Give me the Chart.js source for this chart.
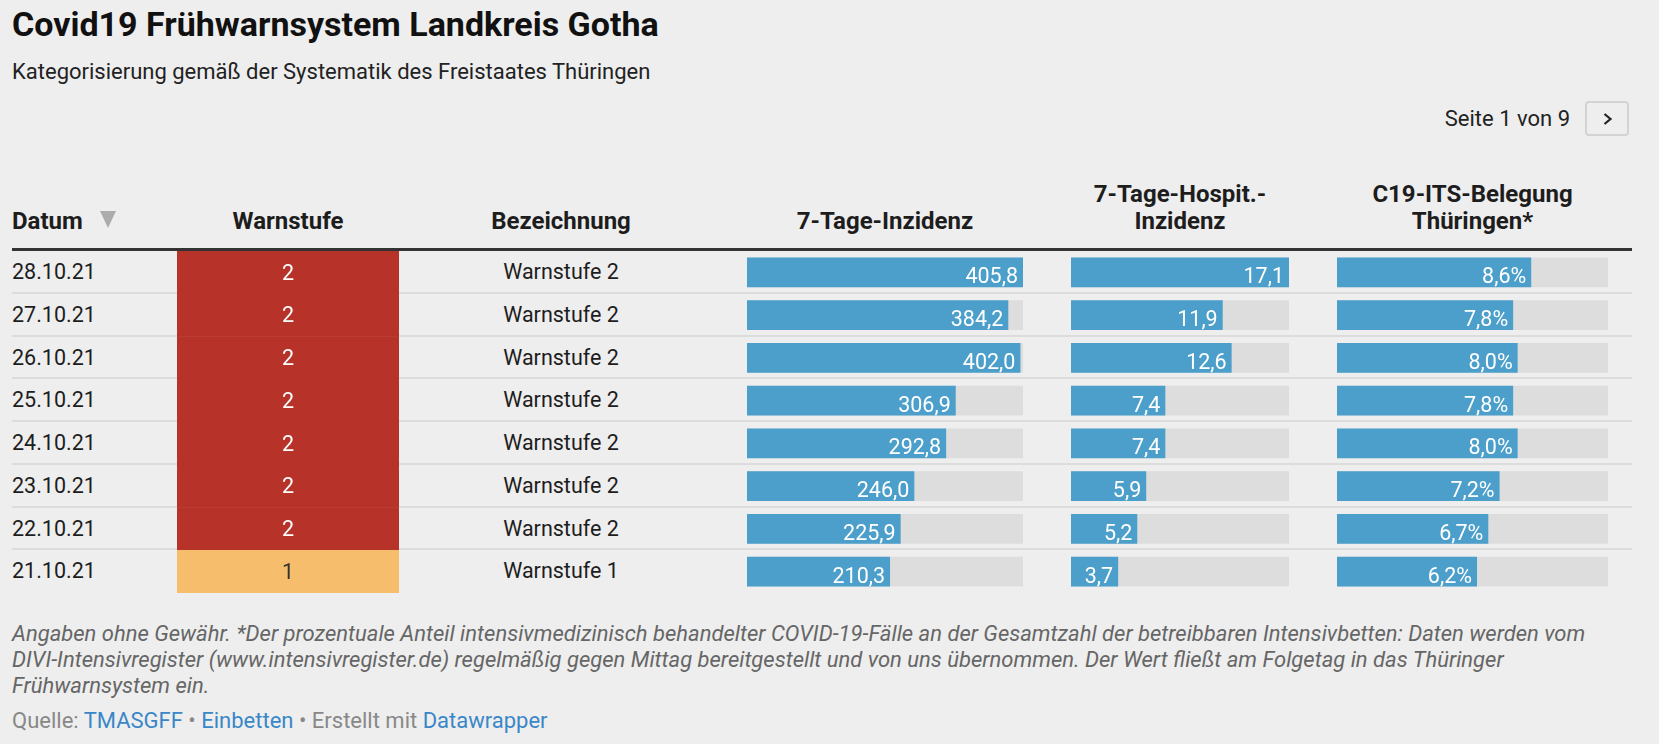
<!DOCTYPE html>
<html lang="de">
<head>
<meta charset="utf-8">
<title>Covid19 Frühwarnsystem Landkreis Gotha</title>
<script src="https://cdn.jsdelivr.net/npm/chart.js@4.4.1/dist/chart.umd.min.js"></script>
<style>
  html, body { margin: 0; padding: 0; background: #eeeeee; }
  body { width: 1659px; height: 744px; position: relative; overflow: hidden;
         font-family: Roboto, "Noto Sans", sans-serif; color: #1d1d1d; }
  .abs { position: absolute; white-space: nowrap; }
  .th { font-size: 24px; font-weight: 700; line-height: 27px; text-align: center; width: 320px; }
  .td { font-size: 21.5px; line-height: 42.75px; height: 42.75px; }
  .sep { position: absolute; left: 12px; width: 1620px; height: 2px; background: #dcdcdc; }
  .chart { position: absolute; top: 251px; height: 342px; }
  .foot { font-size: 22px; line-height: 26px; font-style: italic; color: #666; }
  .src { font-size: 22px; line-height: 26px; color: #888; }
  .src a { color: #3a87c8; text-decoration: none; }
</style>
</head>
<body>

<div class="abs" style="left:12px; top:6.5px; font-size:34px; line-height:34px; font-weight:700; color:#111;">Covid19 Frühwarnsystem Landkreis Gotha</div>
<div class="abs" style="left:12px; top:60.5px; font-size:22px; line-height:22px; color:#222;">Kategorisierung gemäß der Systematik des Freistaates Thüringen</div>

<div class="abs" style="right:89px; top:107.5px; font-size:22px; line-height:22px; color:#222;">Seite 1 von 9</div>
<div class="abs" style="left:1585px; top:101px; width:40px; height:31px; border:2px solid #d3d3d3; border-radius:4px;">
  <svg width="40" height="31" style="display:block"><polyline points="17.5,11 23.5,16 17.5,21" fill="none" stroke="#222" stroke-width="2.2"/></svg>
</div>

<!-- header -->
<div class="abs th" style="left:12px; width:auto; text-align:left; top:208.3px;">Datum</div>
<div class="abs" style="left:100px; top:211px; width:0; height:0; border-left:8.5px solid transparent; border-right:8.5px solid transparent; border-top:17px solid #acacac;"></div>
<div class="abs th" style="left:128px; top:208.3px;">Warnstufe</div>
<div class="abs th" style="left:401px; top:208.3px;">Bezeichnung</div>
<div class="abs th" style="left:725px; top:208.3px;">7-Tage-Inzidenz</div>
<div class="abs th" style="left:1020px; top:181.3px;">7-Tage-Hospit.-<br>Inzidenz</div>
<div class="abs th" style="left:1312.5px; top:181.3px;">C19-ITS-Belegung<br>Thüringen*</div>
<div class="abs" style="left:12px; top:247.5px; width:1620px; height:3.5px; background:#333;"></div>

<div id="rows"></div>

<div class="chart" style="left:177px; width:222px;"><canvas id="warnChart"></canvas></div>
<div class="chart" style="left:747px; width:276px;"><canvas id="inzChart"></canvas></div>
<div class="chart" style="left:1071px; width:218px;"><canvas id="hospChart"></canvas></div>
<div class="chart" style="left:1337px; width:271px;"><canvas id="itsChart"></canvas></div>

<div class="abs foot" style="left:12px; top:621.2px;">Angaben ohne Gewähr. *Der prozentuale Anteil intensivmedizinisch behandelter COVID-19-Fälle an der Gesamtzahl der betreibbaren Intensivbetten: Daten werden vom<br>DIVI-Intensivregister (www.intensivregister.de) regelmäßig gegen Mittag bereitgestellt und von uns übernommen. Der Wert fließt am Folgetag in das Thüringer<br>Frühwarnsystem ein.</div>
<div class="abs src" style="left:12px; top:707.5px;">Quelle: <a>TMASGFF</a> • <a>Einbetten</a> • Erstellt mit <a>Datawrapper</a></div>

<script>
// data, newest first
var dates        = ['28.10.21', '27.10.21', '26.10.21', '25.10.21', '24.10.21', '23.10.21', '22.10.21', '21.10.21'];
var warnLevels   = [2, 2, 2, 2, 2, 2, 2, 1];
var levelNames   = ['Warnstufe 2', 'Warnstufe 2', 'Warnstufe 2', 'Warnstufe 2', 'Warnstufe 2', 'Warnstufe 2', 'Warnstufe 2', 'Warnstufe 1'];
var incidence    = [405.8, 384.2, 402.0, 306.9, 292.8, 246.0, 225.9, 210.3];
var hospIncidence = [17.1, 11.9, 12.6, 7.4, 7.4, 5.9, 5.2, 3.7];
var itsShare     = [8.6, 7.8, 8.0, 7.8, 8.0, 7.2, 6.7, 6.2];
var itsMax       = 12;

var levelColors = { 1: '#f6be6c', 2: '#b73229' };
var levelText   = { 1: '#333333', 2: '#ffffff' };

var ROW_TOP = 251, ROW_H = 42.75;

Chart.defaults.font.family = 'Roboto';
Chart.defaults.animation = false;

// plain text cells + row separators
var rows = document.getElementById('rows');
dates.forEach(function (d, i) {
    var top = ROW_TOP + i * ROW_H;
    var date = document.createElement('div');
    date.className = 'abs td';
    date.style.left = '12px';
    date.style.top = top + 'px';
    date.textContent = d;
    rows.appendChild(date);

    var name = document.createElement('div');
    name.className = 'abs td';
    name.style.left = '411px';
    name.style.width = '300px';
    name.style.textAlign = 'center';
    name.style.top = top + 'px';
    name.textContent = levelNames[i];
    rows.appendChild(name);

    if (i < dates.length - 1) {
        var sep = document.createElement('div');
        sep.className = 'sep';
        sep.style.top = (top + ROW_H - 2) + 'px';
        rows.appendChild(sep);
    }
});

function fmt(v, suffix) {
    return v.toFixed(1).replace('.', ',') + (suffix || '');
}

function baseOptions(max) {
    return {
        indexAxis: 'y',
        responsive: true,
        maintainAspectRatio: false,
        layout: { padding: 0 },
        events: [],
        plugins: { legend: { display: false }, tooltip: { enabled: false } },
        scales: {
            x: { display: false, min: 0, max: max },
            y: { display: false }
        }
    };
}

function makeBarChart(id, values, max, suffix) {
    var labelPlugin = {
        id: 'valueLabels',
        afterDatasetsDraw: function (chart) {
            var ctx = chart.ctx;
            var meta = chart.getDatasetMeta(0);
            ctx.save();
            ctx.font = '21.5px Roboto';
            ctx.fillStyle = '#ffffff';
            ctx.textAlign = 'right';
            ctx.textBaseline = 'alphabetic';
            meta.data.forEach(function (bar, i) {
                ctx.fillText(fmt(values[i], suffix), bar.x - 5, bar.y + 11);
            });
            ctx.restore();
        }
    };
    return new Chart(document.getElementById(id), {
        type: 'bar',
        data: {
            labels: dates,
            datasets: [
                { data: values, backgroundColor: '#4b9fca', grouped: false,
                  barPercentage: 0.7, categoryPercentage: 1, borderWidth: 0 },
                { data: values.map(function () { return max; }), backgroundColor: '#dddddd', grouped: false,
                  barPercentage: 0.7, categoryPercentage: 1, borderWidth: 0 }
            ]
        },
        options: baseOptions(max),
        plugins: [labelPlugin]
    });
}

// Warnstufe column: full-width cells coloured by level
new Chart(document.getElementById('warnChart'), {
    type: 'bar',
    data: {
        labels: dates,
        datasets: [{
            data: warnLevels.map(function () { return 1; }),
            backgroundColor: warnLevels.map(function (l) { return levelColors[l]; }),
            barPercentage: 1, categoryPercentage: 1, borderWidth: 0
        }]
    },
    options: baseOptions(1),
    plugins: [{
        id: 'levelLabels',
        afterDatasetsDraw: function (chart) {
            var ctx = chart.ctx;
            var meta = chart.getDatasetMeta(0);
            var mid = (chart.chartArea.left + chart.chartArea.right) / 2;
            ctx.save();
            ctx.font = '21.5px Roboto';
            ctx.textAlign = 'center';
            meta.data.forEach(function (bar, i) {
                ctx.fillStyle = levelText[warnLevels[i]];
                ctx.fillText(String(warnLevels[i]), mid, bar.y + 7.3);
            });
            ctx.restore();
        }
    }]
});

makeBarChart('inzChart', incidence, Math.max.apply(null, incidence), '');
makeBarChart('hospChart', hospIncidence, Math.max.apply(null, hospIncidence), '');
makeBarChart('itsChart', itsShare, itsMax, '%');
</script>
</body>
</html>
